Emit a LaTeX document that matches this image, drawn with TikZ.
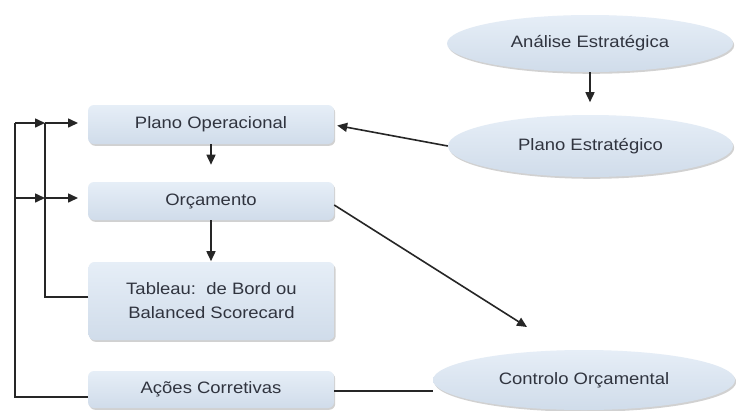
\documentclass[tikz,border=0pt]{standalone}
\usepackage{fontspec}
\setmainfont[FakeStretch=1.12]{Liberation Sans}
\usetikzlibrary{shapes.geometric,arrows.meta,shadows}
\definecolor{txt}{HTML}{30343F}
\definecolor{ln}{HTML}{262626}
\definecolor{filltop}{HTML}{E6EEF7}
\definecolor{fillbot}{HTML}{D0DCEA}
\tikzset{
  boxnode/.style={rectangle, rounded corners=6pt, minimum width=246pt, inner sep=0pt,
    top color=filltop, bottom color=fillbot, draw=none, text=txt,
    font=\fontsize{16.5}{20}\selectfont, align=center,
    drop shadow={shadow xshift=1.2pt, shadow yshift=-1.8pt, fill=black!40, opacity=.45}},
  ellnode/.style={ellipse, inner sep=0pt, top color=filltop, bottom color=fillbot, draw=none,
    text=txt, font=\fontsize{16.5}{20}\selectfont,
    drop shadow={shadow xshift=1.2pt, shadow yshift=-1.8pt, fill=black!40, opacity=.45}},
  conn/.style={draw=ln, line width=1.6pt},
  arr/.style={conn, -{Triangle[length=10pt,width=9pt]}}
}
\begin{document}
\begin{tikzpicture}[x=1pt,y=-1pt]
\useasboundingbox[fill=white] (0,0) rectangle (736,410);
% boxes
\node[boxnode, minimum height=39pt] (po) at (211,124.5) {Plano Operacional};
\node[boxnode, minimum height=38pt] (orc) at (211,201) {Orçamento};
\node[boxnode, minimum height=78pt] (tab) at (211.5,301) {Tableau:\ \ de Bord ou\\[4pt]Balanced Scorecard};
\node[boxnode, minimum height=37pt] (aco) at (211,389.5) {Ações Corretivas};
% ellipses
\node[ellnode, minimum width=286pt, minimum height=57pt] (ana) at (590,43.5) {Análise Estratégica};
\node[ellnode, minimum width=285pt, minimum height=62pt] (pe) at (590.5,146) {Plano Estratégico};
\node[ellnode, minimum width=302pt, minimum height=60pt] (co) at (584,380) {Controlo Orçamental};
% coordinates
\coordinate (o1) at (15,123);
\coordinate (o2) at (15,198);
\coordinate (o3) at (15,397);
\coordinate (i1) at (45,123);
\coordinate (i2) at (45,198);
\coordinate (i3) at (45,297);
\coordinate (t1) at (78,123);
\coordinate (t2) at (78,198);
% left feedback lines
\draw[conn] (aco.west |- o3) -- (o3) -- (o1);
\draw[arr] (o1) -- (i1);
\draw[arr] (o2) -- (i2);
\draw[conn] (tab.west |- i3) -- (i3) -- (i1);
\draw[arr] (i1) -- (t1);
\draw[arr] (i2) -- (t2);
% vertical arrows
\draw[arr] (po.south) -- ++(0,20.5);
\draw[arr] (orc.south) -- ++(0,41);
\draw[arr] (ana.south) -- ++(0,30);
% diagonal arrows
\draw[arr] (pe.west) -- ([xshift=3pt,yshift=-1pt]po.east);
\coordinate (ct) at (527,327);
\draw[arr] ([yshift=-4pt]orc.east) -- (ct);
\draw[conn] (co.west |- 0,391) -- (aco.east |- 0,391);
\end{tikzpicture}
\end{document}
